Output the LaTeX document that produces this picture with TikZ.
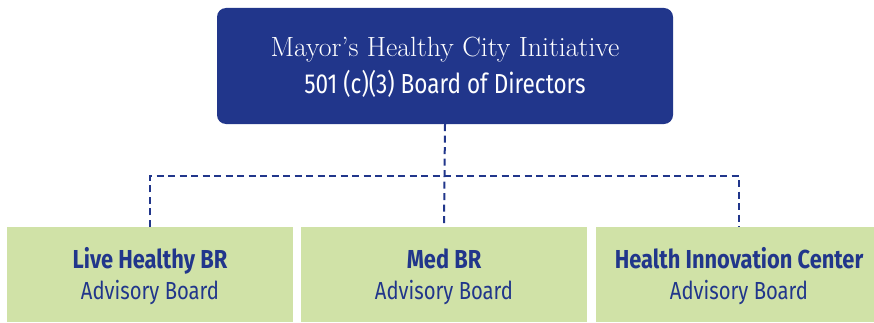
\documentclass[tikz,border=0pt]{standalone}
\usepackage{fontspec}
\newfontfamily\condf{Fira Sans}[FakeStretch=0.82,BoldFeatures={FakeStretch=0.84}]
\definecolor{navy}{RGB}{33,54,139}
\definecolor{leaf}{RGB}{208,226,167}
\begin{document}
\begin{tikzpicture}[x=1pt,y=1pt,
  topbox/.style={fill=navy,draw=none,rounded corners=9pt,minimum width=456pt,minimum height=116pt,inner sep=0pt},
  subbox/.style={fill=leaf,draw=none,minimum width=286pt,minimum height=95pt,inner sep=0pt},
  link/.style={draw=navy,line width=2pt,dash pattern=on 7pt off 4.5pt},
  txt/.style={anchor=base,inner sep=0pt}]
\useasboundingbox (0,0) rectangle (874,322);
\clip (0,0) rectangle (874,322);
\node[topbox] (top) at (445,256) {};
\node[subbox] (b1) at (150,47.5) {};
\node[subbox] (b2) at (444,47.5) {};
\node[subbox] (b3) at (739,47.5) {};
\node[txt,text=white,font=\fontsize{27.8}{30}\selectfont] (t1) at (445,265.3) {Mayor’s Healthy City Initiative};
\node[txt,text=white,font=\condf\fontsize{27.5}{30}\selectfont] (t2) at (445,229) {501 (c)(3) Board of Directors};
\node[txt,text=navy,font=\condf\bfseries\fontsize{26}{28}\selectfont] (l1) at (150,54) {Live Healthy BR};
\node[txt,text=navy,font=\condf\fontsize{24.7}{28}\selectfont] (a1) at (150,23) {Advisory Board};
\node[txt,text=navy,font=\condf\bfseries\fontsize{26}{28}\selectfont] (l2) at (444,54) {Med BR};
\node[txt,text=navy,font=\condf\fontsize{24.7}{28}\selectfont] (a2) at (444,23) {Advisory Board};
\node[txt,text=navy,font=\condf\bfseries\fontsize{26}{28}\selectfont] (l3) at (739,54) {Health Innovation Center};
\node[txt,text=navy,font=\condf\fontsize{24.7}{28}\selectfont] (a3) at (739,23) {Advisory Board};
\coordinate (j) at (444,146);
\draw[link] (top.south) -- (b2.north);
\draw[link] (b1.north) |- (j) -| (b3.north);
\end{tikzpicture}
\end{document}
